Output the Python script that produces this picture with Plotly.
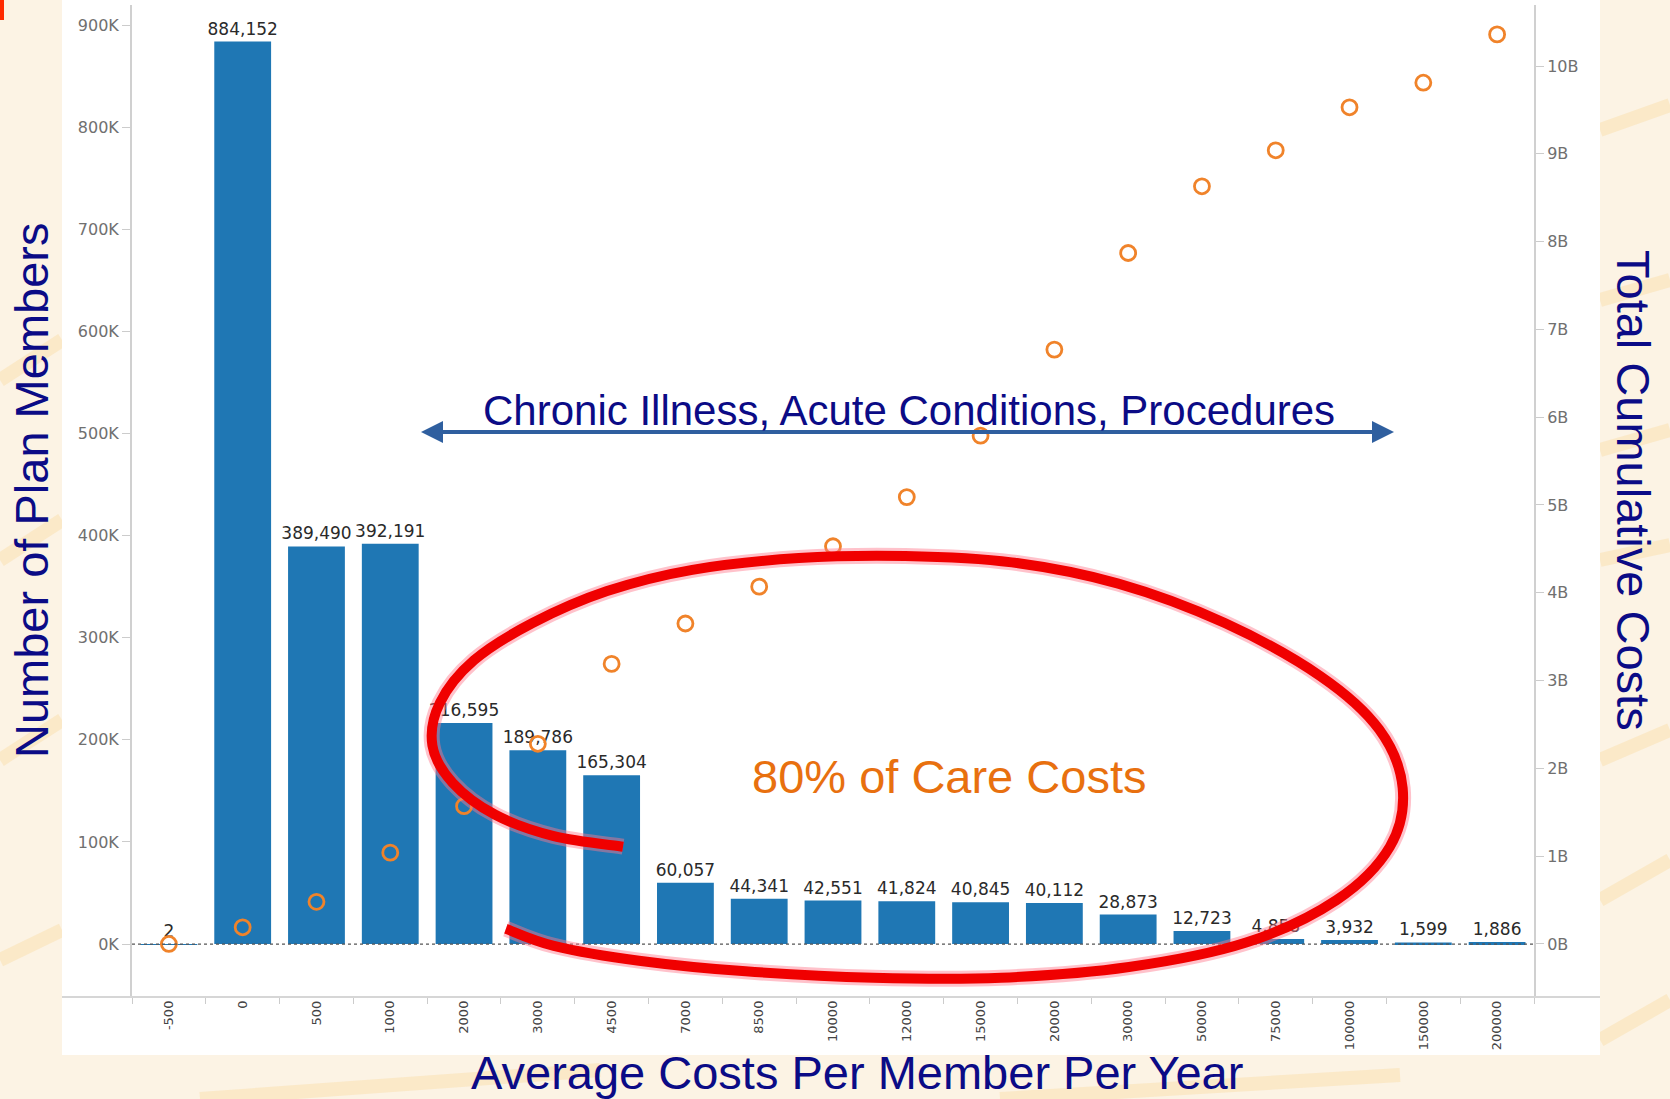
import plotly.graph_objects as go

# ---------------- data ----------------
categories = ["-500", "0", "500", "1000", "2000", "3000", "4500", "7000", "8500",
              "10000", "12000", "15000", "20000", "30000", "50000", "75000",
              "100000", "150000", "200000"]
members = [2, 884152, 389490, 392191, 216595, 189786, 165304, 60057, 44341,
           42551, 41824, 40845, 40112, 28873, 12723, 4858, 3932, 1599, 1886]
cum_costs_b = [0.0, 0.19, 0.48, 1.04, 1.57, 2.28, 3.19, 3.65, 4.07, 4.53, 5.09,
               5.79, 6.77, 7.87, 8.63, 9.04, 9.53, 9.81, 10.36]
cum_costs = [v * 1e9 for v in cum_costs_b]

left_tickvals = [0, 100000, 200000, 300000, 400000, 500000, 600000, 700000, 800000, 900000]
left_ticktext = ["0K", "100K", "200K", "300K", "400K", "500K", "600K", "700K", "800K", "900K"]
right_tickvals = [i * 1e9 for i in range(11)]
right_ticktext = [f"{i}B" for i in range(11)]

# ---------------- geometry helpers (pixel -> paper) ----------------
W, H = 1670, 1099
L, R, T, B = 132, 136, 5, 102
PW, PH = W - L - R, H - T - B
S = 1670 / 1568.0  # shown-to-full scale


def px(x):
    return (x - L) / PW


def py(y):
    return (H - B - y) / PH


NAVY = "#0b0b86"
TICK_GRAY = "#707070"

fig = go.Figure()

fig.add_trace(go.Bar(
    x=categories, y=members, name="Members",
    marker=dict(color="#1f77b4", line=dict(width=0)),
    texttemplate="%{y:,}", textposition="outside", constraintext="none",
    cliponaxis=False,
    textfont=dict(family="DejaVu Sans", size=17, color="#2a2a2a"),
))
fig.add_trace(go.Scatter(
    x=categories, y=cum_costs, yaxis="y2", mode="markers", name="Total Cumulative Costs",
    marker=dict(symbol="circle-open", size=15, color="#f0832a",
                line=dict(width=2.8, color="#f0832a")),
    cliponaxis=False,
))

shapes = []

# background streaks (decorative)
streak = "rgba(250,214,150,0.35)"
for (x0, y0, x1, y1) in [(1600, 130, 1670, 105), (1600, 300, 1670, 280), (1600, 450, 1670, 430),
                         (1600, 560, 1670, 545), (1600, 760, 1670, 730), (1600, 900, 1670, 860),
                         (1600, 1040, 1670, 1000), (0, 380, 62, 340), (0, 560, 62, 520),
                         (0, 760, 62, 720), (0, 960, 62, 930), (300, 4, 700, 0), (900, 4, 1300, 0),
                         (200, 1099, 600, 1070), (1000, 1099, 1400, 1075)]:
    shapes.append(dict(type="line", xref="paper", yref="paper", x0=px(x0), y0=py(y0),
                       x1=px(x1), y1=py(y1), line=dict(color=streak, width=14), layer="below"))

# white chart panel
shapes.append(dict(type="rect", xref="paper", yref="paper", x0=px(62), x1=px(1600),
                   y0=py(1055), y1=py(0), fillcolor="white", line=dict(width=0), layer="below"))

# extended x-axis line
shapes.append(dict(type="line", xref="paper", yref="paper", x0=px(62), x1=px(1600),
                   y0=0, y1=0, line=dict(color="#d6d6d6", width=2)))
# dotted zero line
shapes.append(dict(type="line", xref="paper", yref="y", x0=0, x1=1, y0=0, y1=0,
                   line=dict(color="#555555", width=1.2, dash="dot")))
# small red mark top-left
shapes.append(dict(type="rect", xref="paper", yref="paper", x0=px(0), x1=px(4),
                   y0=py(20), y1=py(0), fillcolor="#ff2a00", line=dict(width=0)))

# arrow shaft
ARROW_C = "#2f5f9f"
shapes.append(dict(type="line", xref="paper", yref="paper", x0=px(428), x1=px(1388),
                   y0=py(432), y1=py(432), line=dict(color=ARROW_C, width=4)))

# hand-drawn red loop (shown-image coordinates)
loop_pts = [(585, 795), (520, 785), (465, 765), (425, 735), (406, 700), (413, 660),
            (445, 620), (500, 585), (570, 555), (650, 535), (750, 524), (850, 522),
            (950, 528), (1050, 548), (1150, 585), (1240, 635), (1295, 685), (1317, 740),
            (1305, 795), (1255, 845), (1170, 885), (1060, 908), (940, 918), (820, 918),
            (700, 912), (600, 902), (520, 888), (475, 872)]
P = [(px(x * S), py(y * S)) for x, y in loop_pts]


def smooth_path(pts):
    d = f"M {pts[0][0]:.5f},{pts[0][1]:.5f}"
    n = len(pts)
    for i in range(n - 1):
        p0 = pts[i - 1] if i > 0 else pts[i]
        p1 = pts[i]
        p2 = pts[i + 1]
        p3 = pts[i + 2] if i + 2 < n else pts[i + 1]
        c1 = (p1[0] + (p2[0] - p0[0]) / 6, p1[1] + (p2[1] - p0[1]) / 6)
        c2 = (p2[0] - (p3[0] - p1[0]) / 6, p2[1] - (p3[1] - p1[1]) / 6)
        d += f" C {c1[0]:.5f},{c1[1]:.5f} {c2[0]:.5f},{c2[1]:.5f} {p2[0]:.5f},{p2[1]:.5f}"
    return d


loop_d = smooth_path(P)
shapes.append(dict(type="path", xref="paper", yref="paper", path=loop_d,
                   line=dict(color="rgba(255,120,140,0.45)", width=16)))
shapes.append(dict(type="path", xref="paper", yref="paper", path=loop_d,
                   line=dict(color="#f00000", width=10)))


def label(text, x, y, size, color, angle=0):
    return dict(text=text, xref="paper", yref="paper", x=px(x), y=py(y),
                xanchor="center", yanchor="middle", textangle=angle, showarrow=False,
                font=dict(family="Liberation Sans", size=size, color=color))


annotations = [
    label("Number of Plan Members", 32, 491, 47, NAVY, -90),
    label("Total Cumulative Costs", 1634, 490, 47, NAVY, 90),
    label("Average Costs Per Member Per Year", 857, 1072, 47, NAVY),
    label("Chronic Illness, Acute Conditions, Procedures", 909, 410, 42, NAVY),
    label("80% of Care Costs", 949, 776, 47, "#e8700f"),
]
# arrow heads at both ends
for xe_px, off in ((421, 40), (1394, -40)):
    annotations.append(dict(text="", xref="paper", yref="paper", x=px(xe_px), y=py(432),
                            axref="pixel", ayref="pixel", ax=off, ay=0,
                            showarrow=True, arrowhead=2, arrowsize=1.1, arrowwidth=4,
                            arrowcolor=ARROW_C))

fig.update_layout(
    width=W, height=H,
    margin=dict(l=L, r=R, t=T, b=B),
    paper_bgcolor="#fcf3e4", plot_bgcolor="white",
    showlegend=False, bargap=0.23,
    xaxis=dict(type="category", range=[-0.5, 18.5], tickson="boundaries", ticks="outside",
               ticklen=6, tickcolor="#cccccc", tickangle=-90, showline=False, showgrid=False,
               zeroline=False,
               tickfont=dict(family="DejaVu Sans", size=13, color="#444444")),
    yaxis=dict(range=[-51900, 920000], tickvals=left_tickvals, ticktext=left_ticktext,
               ticks="outside", ticklen=8, tickcolor="#cccccc", showline=True,
               linecolor="#d0d0d0", linewidth=2, showgrid=False, zeroline=False,
               tickfont=dict(family="DejaVu Sans", size=16, color=TICK_GRAY)),
    yaxis2=dict(range=[-0.604e9, 10.695e9], tickvals=right_tickvals, ticktext=right_ticktext,
                overlaying="y", side="right", ticks="outside", ticklen=8, tickcolor="#cccccc",
                showline=True, linecolor="#d0d0d0", linewidth=2, showgrid=False, zeroline=False,
                tickfont=dict(family="DejaVu Sans", size=16, color=TICK_GRAY)),
    shapes=shapes, annotations=annotations,
)

fig.write_html("out.html", config={"displayModeBar": False},
               post_script="document.body.style.margin='0px';document.body.style.overflow='hidden';")
